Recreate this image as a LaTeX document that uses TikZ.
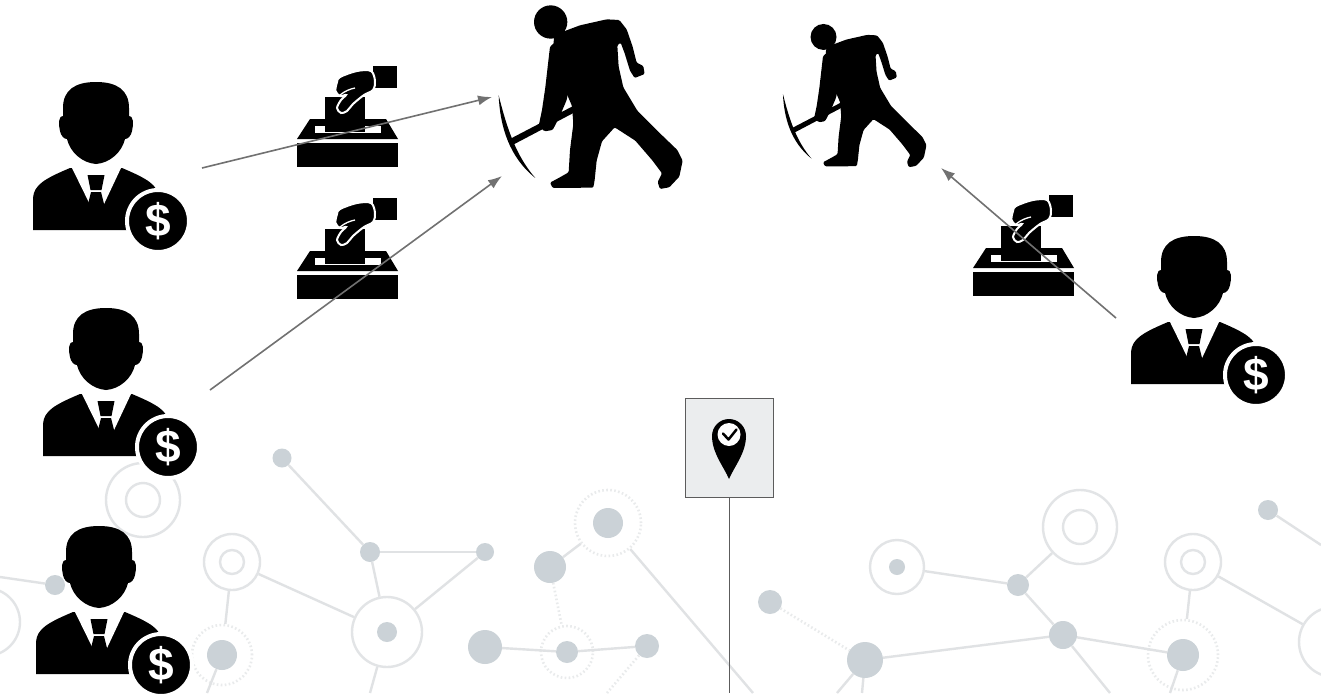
\documentclass[tikz,border=0pt]{standalone}
\usepackage{fontspec}
\setmainfont{Liberation Sans}
\usetikzlibrary{arrows.meta}

\definecolor{cLine}{HTML}{E0E2E4}
\definecolor{cDot}{HTML}{CBD2D7}
\definecolor{cRing}{HTML}{E2E4E6}
\definecolor{cDotted}{HTML}{E9EBEC}
\definecolor{cArrow}{HTML}{717171}
\definecolor{cPinFill}{HTML}{EBEDEE}
\definecolor{cPinEdge}{HTML}{5C5C5C}

\tikzset{
  % background network
  netdot/.style={circle, fill=cDot, inner sep=0pt, minimum size=#1},
  netring/.style={circle, draw=cRing, line width=2.4pt, inner sep=0pt, minimum size=#1},
  netdring/.style={circle, draw=cDotted, line width=2.6pt, dash pattern=on 1.6pt off 2.4pt, inner sep=0pt, minimum size=#1},
  netlink/.style={draw=cLine, line width=2.4pt},
  netdlink/.style={draw=cDotted, line width=2.6pt, dash pattern=on 1.6pt off 2.4pt},
  % foreground
  flow/.style={draw=cArrow, line width=1.6pt, -{Latex[length=14pt,width=10pt]}},
  pinbox/.style={draw=cPinEdge, fill=cPinFill, line width=1.6pt, minimum width=88pt, minimum height=99pt, inner sep=0pt},
  % investor with a coin, origin at the centre of the head
  investor/.pic={
    \fill (0,-40) .. controls (21,-40) and (33,-32) .. (33,-14)
      -- (33,-6) .. controls (37,-7) and (38,2) .. (36,9)
      .. controls (35,14) and (32,17) .. (29,17)
      .. controls (26,30) and (14,41) .. (0,42)
      .. controls (-14,41) and (-26,30) .. (-29,17)
      .. controls (-32,17) and (-35,14) .. (-36,9)
      .. controls (-38,2) and (-37,-7) .. (-33,-6)
      -- (-33,-14) .. controls (-33,-32) and (-21,-40) .. (0,-40) -- cycle;
    \fill (-63,108) -- (-63,76) .. controls (-62,63) and (-52,57) .. (-26,46)
      -- (26,46) .. controls (52,57) and (62,63) .. (63,76) -- (63,108) -- cycle;
    \fill[white] (-24,46) -- (25,46) -- (1,97) -- cycle;
    \fill (-8.5,53) -- (8.5,53) -- (5.5,68) -- (-5.5,68) -- cycle;
    \fill (-5,70) -- (5,70) -- (10,90) -- (0,102) -- (-10,90) -- cycle;
    \filldraw[draw=white, line width=4pt, fill=black] (62,99) circle (31);
    \node[text=white, inner sep=0pt, font=\bfseries\fontsize{46}{46}\selectfont] (-sign) at (62,99) {\$};
  },
  % ballot box with hand, origin at the bottom left corner of the box
  ballot/.pic={
    \fill (0,0) rectangle (101,-24);
    \fill (0,-28) -- (101,-28) -- (89,-48) -- (13,-48) -- cycle;
    \fill[white] (18,-41) rectangle (84,-34);
    \fill (28,-70) rectangle (68,-35);
    \fill (76,-101) rectangle (100,-79);
    \filldraw[fill=black, draw=white, line width=2pt]
      plot[smooth cycle, tension=0.55] coordinates {(43,-90) (60,-96) (74,-96) (78,-86) (76,-77)
        (67,-72) (56,-63) (50,-56) (44,-54) (40,-59) (44,-67) (49,-72) (43,-71) (38.5,-76) (40,-85)};
    \draw[white, line width=1.3pt] (43,-72) .. controls (48,-76) and (53,-78) .. (58,-79);
  },
  % miner with a pickaxe, drawn in its own design units
  miner/.pic={
    \fill (212,66) circle (50);
    \fill[rounded corners=1.2pt] (236,100) -- (300,76) -- (380,58) -- (418,60) -- (440,88) -- (458,140)
      -- (470,188) -- (490,198) -- (494,222) -- (464,234) -- (450,212) -- (434,160) -- (422,128)
      -- (412,136) -- (416,200) -- (430,262) -- (472,332) -- (542,402) -- (592,450) -- (608,482)
      -- (598,530) -- (568,562) -- (540,567) -- (533,546) -- (546,520) -- (516,480) -- (466,422)
      -- (404,382) -- (366,424) -- (350,482) -- (344,540) -- (340,563) -- (218,564) -- (210,548)
      -- (238,533) -- (266,517) -- (270,450) -- (280,372) -- (276,318) -- (252,262) -- (232,200)
      -- (220,140) -- (222,112) -- cycle;
    \fill[rounded corners=1.2pt] (226,126) -- (262,168) -- (274,232) -- (260,300) -- (238,352)
      -- (218,390) -- (194,394) -- (176,378) -- (186,330) -- (196,262) -- (204,192) -- (210,140) -- cycle;
    \fill (84,420) -- (297,309) -- (305,326) -- (92,438) -- cycle;
    \fill (56,286) .. controls (60,380) and (88,472) .. (166,534)
      .. controls (110,470) and (82,390) .. (56,286) -- cycle;
  }
}

\begin{document}
\begin{tikzpicture}[x=1pt, y=-1pt]
  \useasboundingbox (0,0) rectangle (1321,693);
  \fill[white] (0,0) rectangle (1321,693);
  \clip (0,0) rectangle (1321,693);

  % ---------------- background network ----------------
  \node[netring=74pt] (r1) at (143,500) {};
  \node[netring=34pt] (r1i) at (143,500) {};
  \node[netring=56pt] (r2) at (232,562) {};
  \node[netring=24pt] (r2i) at (232,562) {};
  \node[netring=70pt] (r3) at (387,632) {};
  \node[netring=54pt] (r4) at (897,567) {};
  \node[netring=74pt] (r5) at (1080,527) {};
  \node[netring=34pt] (r5i) at (1080,527) {};
  \node[netring=56pt] (r6) at (1193,562) {};
  \node[netring=24pt] (r6i) at (1193,562) {};
  \node[netring=70pt] (r7) at (1334,642) {};
  \node[netring=68pt] (r8) at (-14,622) {};
  \node[netdring=60pt] (q6) at (222,655) {};
  \node[netdring=66pt] (q8) at (608,523) {};
  \node[netdring=52pt] (q10) at (567,652) {};
  \node[netdring=70pt] (q17) at (1183,655) {};

  \coordinate (e1) at (0,577);
  \coordinate (e2) at (370,693);
  \coordinate (e3) at (207,693);
  \coordinate (e4) at (753,693);
  \coordinate (e5) at (607,693);
  \coordinate (e6) at (837,693);
  \coordinate (e7) at (862,693);
  \coordinate (e8) at (1110,693);
  \coordinate (e9) at (1321,545);
  \coordinate (e10) at (1170,693);

  \node[netdot=19pt] (n1) at (282,458) {};
  \node[netdot=20pt] (n2) at (370,552) {};
  \node[netdot=18pt] (n3) at (485,552) {};
  \node[netdot=20pt] (n4) at (55,585) {};
  \node[netdot=20pt] (n5) at (387,632) {};
  \node[netdot=30pt] (n6) at (222,655) {};
  \node[netdot=32pt] (n7) at (550,567) {};
  \node[netdot=30pt] (n8) at (608,523) {};
  \node[netdot=34pt] (n9) at (485,647) {};
  \node[netdot=22pt] (n10) at (567,652) {};
  \node[netdot=24pt] (n11) at (647,646) {};
  \node[netdot=24pt] (n12) at (770,602) {};
  \node[netdot=36pt] (n13) at (865,660) {};
  \node[netdot=16pt] (n14) at (897,567) {};
  \node[netdot=22pt] (n15) at (1018,585) {};
  \node[netdot=28pt] (n16) at (1063,635) {};
  \node[netdot=32pt] (n17) at (1183,655) {};
  \node[netdot=20pt] (n18) at (1268,510) {};

  \draw[netlink] (n1) -- (n2);
  \draw[netlink] (n2) -- (n3);
  \draw[netlink] (n2) -- (r3);
  \draw[netlink] (n3) -- (r3);
  \draw[netlink] (r2) -- (r3);
  \draw[netlink] (r2) -- (q6);
  \draw[netlink] (n4) -- (e1);
  \draw[netlink] (r3) -- (e2);
  \draw[netlink] (n6) -- (e3);
  \draw[netlink] (n7) -- (q8);
  \draw[netdlink] (n7) -- (q10);
  \draw[netlink] (q8) -- (e4);
  \draw[netlink] (n9) -- (n10);
  \draw[netlink] (n10) -- (n11);
  \draw[netdlink] (n11) -- (e5);
  \draw[netdlink] (n12) -- (n13);
  \draw[netlink] (n13) -- (e6);
  \draw[netlink] (n13) -- (e7);
  \draw[netlink] (n13) -- (n16);
  \draw[netlink] (r4) -- (n15);
  \draw[netlink] (n15) -- (r5);
  \draw[netlink] (n15) -- (n16);
  \draw[netlink] (n16) -- (n17);
  \draw[netlink] (n16) -- (e8);
  \draw[netlink] (r6) -- (q17);
  \draw[netlink] (r6) -- (r7);
  \draw[netlink] (n18) -- (e9);
  \draw[netlink] (n17) -- (e10);

  % ---------------- validation marker ----------------
  \node[pinbox] (pin) at (729.5,448) {};
  \coordinate (pinfoot) at (729.5,693);
  \draw[cPinEdge, line width=1.6pt] (pin.south) -- (pinfoot);
  \fill (729,479) .. controls (724,467) and (712,453) .. (712,436)
        arc[start angle=180, end angle=0, x radius=17, y radius=-17]
        .. controls (746,453) and (734,467) .. (729,479) -- cycle;
  \fill[white] (729,434.5) circle (11.5);
  \draw[line width=2.5pt, line cap=round, line join=round] (723,433.5) -- (728.5,439.5) -- (736.5,429.5);

  % ---------------- investors ----------------
  \pic (invA) at (96,122) {investor};
  \pic (invB) at (106,348) {investor};
  \pic (invC) at (99,566) {investor};
  \pic (invD) at (1194,276) {investor};

  % ---------------- votes ----------------
  \pic (boxA) at (297,167) {ballot};
  \pic (boxB) at (297,299) {ballot};
  \pic (boxC) at (973,296) {ballot};

  % ---------------- miners ----------------
  \pic[scale=0.3333] (minerA) at (480,0) {miner};
  \pic[scale=0.26] (minerB) at (768.4,19.8) {miner};

  % ---------------- flows ----------------
  \coordinate (fromA) at (202,168);
  \coordinate (fromB) at (210,390);
  \coordinate (fromD) at (1116,318);
  \coordinate (toA1) at (492,97);
  \coordinate (toA2) at (502,176);
  \coordinate (toB) at (941,168);
  \draw[flow] (fromA) -- (toA1);
  \draw[flow] (fromB) -- (toA2);
  \draw[flow] (fromD) -- (toB);
\end{tikzpicture}
\end{document}
